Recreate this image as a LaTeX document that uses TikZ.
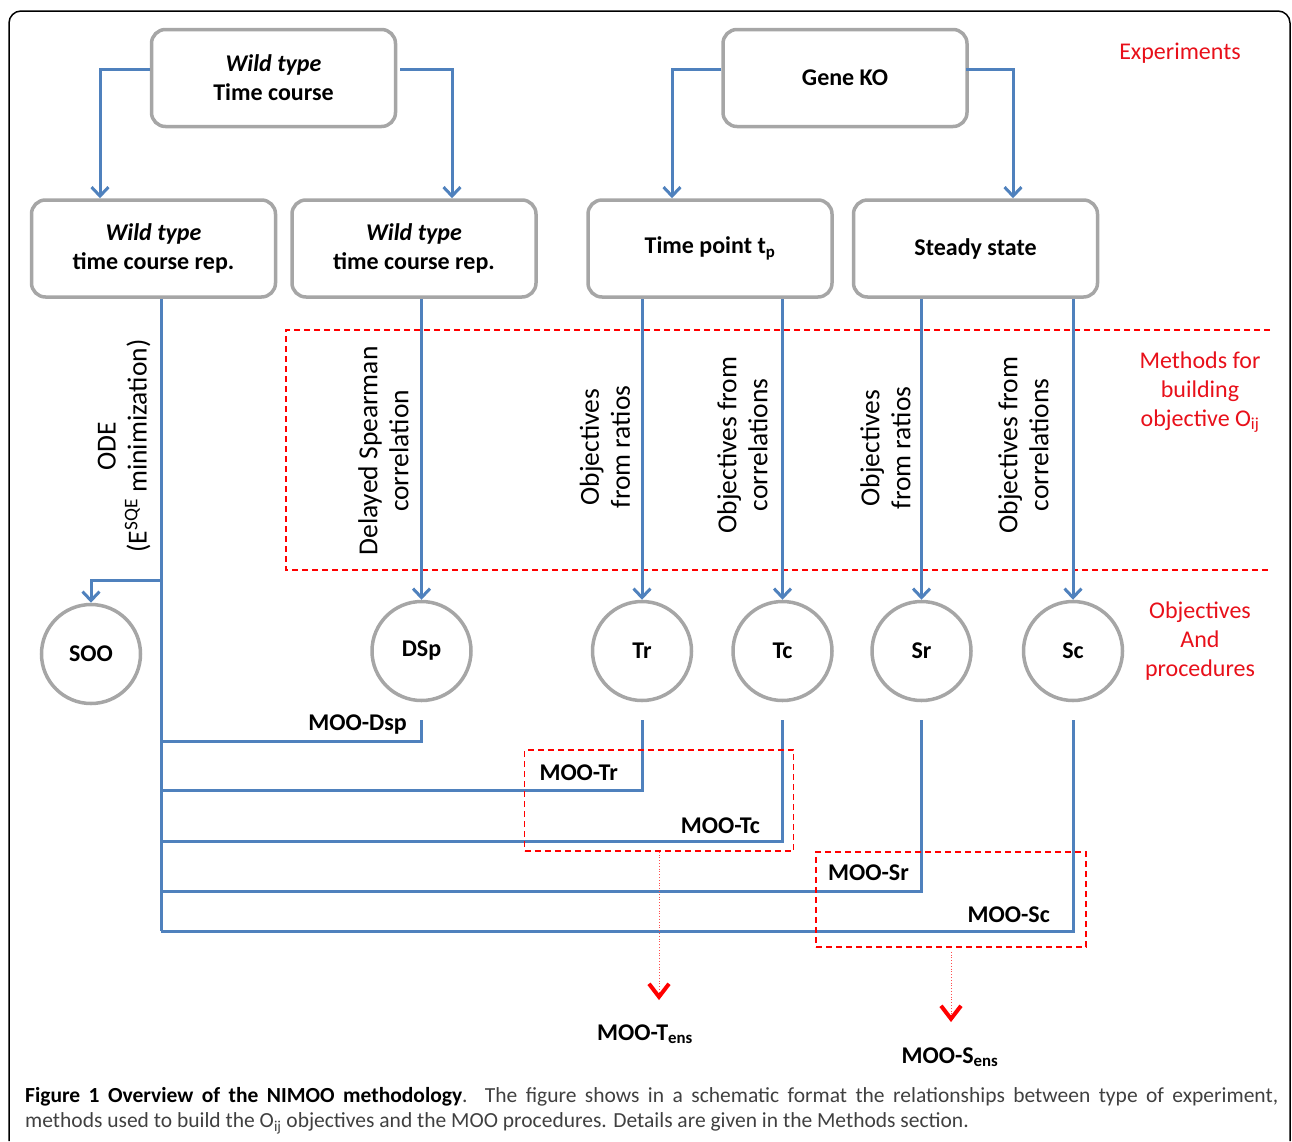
\documentclass[tikz,border=0pt]{standalone}
\usepackage{fontspec}
\setmainfont{Carlito}
\usetikzlibrary{arrows.meta}

\definecolor{flowblue}{RGB}{79,129,189}
\definecolor{boxgray}{RGB}{166,166,166}
\definecolor{lblred}{RGB}{232,16,26}
\definecolor{capgray}{RGB}{64,64,64}

\newcommand{\figfont}{\fontsize{24}{29}\selectfont}
\newcommand{\rotfont}{\fontsize{27.5}{31}\selectfont}

\tikzset{
  expbox/.style={draw=boxgray, line width=3.5pt, rounded corners=14pt, fill=white,
    minimum width=244pt, minimum height=97pt, align=center, font=\figfont\bfseries},
  objcircle/.style={draw=boxgray, line width=3.5pt, circle, minimum size=99pt,
    inner sep=0pt, font=\figfont\bfseries},
  flow/.style={draw=flowblue, line width=3pt, -{Straight Barb[length=9pt,width=17pt]}},
  bline/.style={draw=flowblue, line width=3pt},
  method/.style={rotate=90, align=center, font=\rotfont},
  moolbl/.style={font=\figfont\bfseries, inner sep=0pt},
  sidelbl/.style={text=lblred, align=center, font=\figfont},
  reddash/.style={draw=red, line width=1.5pt, dash pattern=on 6pt off 4pt},
  ensarrow/.style={draw=red!70, line width=0.8pt, dotted,
    -{Straight Barb[length=13pt,width=20pt,line width=4pt,color=red]}},
}

\begin{document}
\begin{tikzpicture}[x=1pt, y=-1pt]
  \useasboundingbox (0,0) rectangle (1292,1141);
  % cadre
  \draw[line width=1.5pt, rounded corners=12pt] (9,1141) -- (9,11) -- (1290,11) -- (1290,1141);

  % ---- Experiences ----
  \node[expbox] (wt) at (273.5,78) {\textit{Wild type}\\Time course};
  \node[expbox] (ko) at (845,78) {Gene KO};
  \node[expbox] (wt1) at (153.5,248.5) {\textit{Wild type}\\time course rep.};
  \node[expbox] (wt2) at (414,248.5) {\textit{Wild type}\\time course rep.};
  \node[expbox] (tp) at (710,248.5) {Time point t\textsubscript{p}};
  \node[expbox] (ss) at (975.5,248.5) {Steady state};

  \draw[flow] ([yshift=9pt]wt.west) -| ([xshift=-53.5pt]wt1.north);
  \draw[flow] ([xshift=3pt,yshift=9pt]wt.east) -| ([xshift=38pt]wt2.north);
  \draw[flow] ([yshift=9pt]ko.west) -| ([xshift=-38pt]tp.north);
  \draw[flow] ([xshift=-3pt,yshift=9pt]ko.east) -| ([xshift=37.5pt]ss.north);

  % ---- Objectifs / procedures ----
  \node[objcircle] (soo) at (91,654) {SOO};
  \foreach \nm/\x/\lbl in {dsp/421.5/DSp, tr/642/Tr, tc/782.5/Tc, sr/921.5/Sr, sc/1073/Sc}{
    \node[objcircle] (\nm) at (\x,651) {\lbl};
  }

  % methodes (cadre rouge)
  \draw[reddash] (1270,330) -| (286,570) -- (1270,570);

  \foreach \src/\dst in {wt2/dsp, tp/tr, tp/tc, ss/sr, ss/sc}{
    \draw[flow] (\dst.north |- \src.south) -- (\dst.north);
  }

  \coordinate (bus) at (161,931);
  \draw[bline] (bus |- wt1.south) -- (bus);
  \draw[flow] (bus |- 0,580) -| (soo.north);

  \node[method] (m_ode) at (124,446) {ODE\\(E\textsuperscript{SQE} minimization)};
  \node[method] (m_dsp) at (383.5,451) {Delayed Spearman\\correlation};
  \node[method] (m_tr) at (605,447) {Objectives\\from ratios};
  \node[method] (m_tc) at (742.5,445) {Objectives from\\correlations};
  \node[method] (m_sr) at (885.5,448) {Objectives\\from ratios};
  \node[method] (m_sc) at (1023.5,445) {Objectives from\\correlations};

  % ---- procedures MOO ----
  \foreach \nm/\y in {dsp/741, tr/790, tc/841, sr/891, sc/931}{
    \draw[bline] ([yshift=-18pt]\nm.south) |- (bus |- 0,\y);
  }
  \node[moolbl, anchor=base east] (l_dsp) at (407,730) {MOO-Dsp};
  \node[moolbl, anchor=base east] (l_tr) at (618,780) {MOO-Tr};
  \node[moolbl, anchor=base east] (l_tc) at (760,833) {MOO-Tc};
  \node[moolbl, anchor=base east] (l_sr) at (909,880) {MOO-Sr};
  \node[moolbl, anchor=base east] (l_sc) at (1050,922) {MOO-Sc};

  % ensembles
  \node[reddash, minimum width=269pt, minimum height=101pt, inner sep=0pt] (tbox) at (659,800.5) {};
  \node[reddash, minimum width=270pt, minimum height=95pt, inner sep=0pt] (sbox) at (951,899.5) {};
  \node[moolbl, anchor=base] (tens) at (645,1040) {MOO-T\textsubscript{ens}};
  \node[moolbl, anchor=base] (sens) at (950,1063) {MOO-S\textsubscript{ens}};
  \draw[ensarrow] (tbox.south) -- ([yshift=24pt]tens.north -| tbox.south);
  \draw[ensarrow] ([yshift=-4pt]sbox.south) -- ([yshift=25pt]sens.north -| sbox.south);

  % legendes a droite
  \node[sidelbl] (exp) at (1180,53) {Experiments};
  \node[sidelbl] (meth) at (1200,392) {Methods for\\building\\objective O\textsubscript{ij}};
  \node[sidelbl] (proc) at (1200,641) {Objectives\\And\\procedures};

  % legende de la figure
  \node[anchor=north west, inner sep=0pt, text width=1253pt, align=justify,
        font=\fontsize{21.5}{25.5}\selectfont, text=capgray] (cap) at (25,1087)
    {\textcolor{black}{\textbf{Figure 1 Overview of the NIMOO methodology}}. The figure shows in a schematic format the relationships between type of experiment,\linebreak
     methods used to build the O\textsubscript{ij} objectives and the MOO procedures. Details are given in the Methods section.};
\end{tikzpicture}
\end{document}
